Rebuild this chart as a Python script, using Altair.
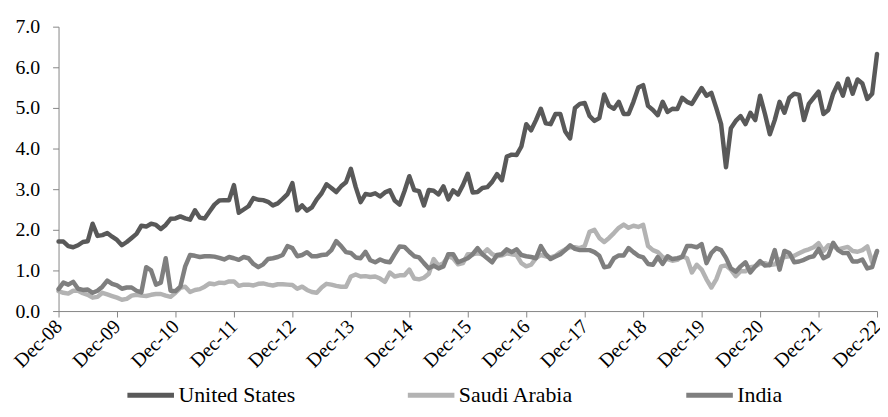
import altair as alt
import pandas as pd

series_names = ["United States", "Saudi Arabia", "India"]
series_colors = ["#595959", "#b3b3b3", "#7f7f7f"]

# Monthly values, Dec-08 .. Dec-22 (169 months); rows start at each December
united_states = [
    1.71, 1.71, 1.60, 1.57, 1.62, 1.70, 1.72, 2.15, 1.85, 1.87, 1.92, 1.83,
    1.75, 1.62, 1.70, 1.80, 1.90, 2.10, 2.08, 2.15, 2.12, 2.02, 2.12, 2.27,
    2.28, 2.33, 2.28, 2.25, 2.48, 2.30, 2.28, 2.45, 2.62, 2.72, 2.73, 2.73,
    3.10, 2.42, 2.50, 2.58, 2.78, 2.74, 2.73, 2.69, 2.60, 2.65, 2.76, 2.88,
    3.15, 2.48, 2.60, 2.47, 2.55, 2.75, 2.90, 3.12, 3.03, 2.93, 3.07, 3.17,
    3.50, 3.05, 2.68, 2.88, 2.86, 2.90, 2.82, 2.92, 2.97, 2.72, 2.62, 2.95,
    3.32, 2.98, 2.95, 2.60, 2.98, 2.96, 2.87, 3.07, 2.75, 2.97, 2.87, 3.10,
    3.38, 2.92, 2.93, 3.03, 3.05, 3.18, 3.37, 3.22, 3.80, 3.85, 3.84, 4.05,
    4.60, 4.45, 4.70, 4.98, 4.62, 4.60, 4.85, 4.85, 4.42, 4.25, 5.00, 5.10,
    5.12, 4.80, 4.68, 4.75, 5.33, 5.05, 4.98, 5.15, 4.85, 4.85, 5.15, 5.50,
    5.56, 5.05, 4.95, 4.82, 5.15, 4.90, 4.98, 4.97, 5.25, 5.15, 5.10, 5.30,
    5.49, 5.30, 5.37, 5.00, 4.60, 3.54, 4.50, 4.68, 4.80, 4.60, 4.88, 4.70,
    5.30, 4.85, 4.35, 4.70, 5.15, 4.88, 5.25, 5.35, 5.32, 4.70, 5.10, 5.25,
    5.40, 4.85, 4.95, 5.35, 5.60, 5.30, 5.72, 5.35, 5.70, 5.60, 5.22, 5.35,
    6.33,
]

saudi_arabia = [
    0.49, 0.45, 0.43, 0.50, 0.50, 0.44, 0.40, 0.33, 0.35, 0.45, 0.41, 0.37,
    0.33, 0.28, 0.30, 0.38, 0.40, 0.38, 0.37, 0.40, 0.42, 0.42, 0.38, 0.35,
    0.45, 0.57, 0.60, 0.47, 0.52, 0.54, 0.60, 0.68, 0.66, 0.70, 0.69, 0.73,
    0.73, 0.62, 0.65, 0.65, 0.63, 0.67, 0.68, 0.65, 0.63, 0.66, 0.66, 0.65,
    0.64, 0.55, 0.60, 0.52, 0.47, 0.45, 0.58, 0.67, 0.65, 0.62, 0.60, 0.60,
    0.85, 0.90, 0.85, 0.86, 0.84, 0.85, 0.80, 0.72, 0.95, 0.85, 0.88, 0.88,
    1.02, 0.80, 0.78, 0.82, 0.92, 1.28, 1.12, 1.18, 1.35, 1.30, 1.15, 1.18,
    1.40, 1.40, 1.42, 1.40, 1.52, 1.40, 1.35, 1.37, 1.42, 1.40, 1.38, 1.18,
    1.10, 1.14, 1.30, 1.38, 1.35, 1.32, 1.36, 1.45, 1.52, 1.57, 1.57, 1.55,
    1.60, 1.95, 2.00, 1.80, 1.70, 1.80, 1.92, 2.05, 2.13, 2.05, 2.10, 2.07,
    2.12, 1.60, 1.50, 1.45, 1.33, 1.28, 1.24, 1.26, 1.35, 1.30, 0.95, 1.14,
    1.02, 0.78, 0.58, 0.78, 1.10, 1.12, 1.02, 0.86, 0.98, 0.98, 1.08, 1.10,
    1.17, 1.18, 1.13, 1.15, 1.27, 1.33, 1.35, 1.36, 1.42, 1.48, 1.52, 1.57,
    1.67, 1.48, 1.62, 1.60, 1.52, 1.55, 1.58, 1.48, 1.46, 1.50, 1.59, 1.20,
    1.46,
]

india = [
    0.54, 0.70, 0.65, 0.72, 0.55, 0.52, 0.53, 0.45, 0.50, 0.60, 0.75, 0.67,
    0.63, 0.55, 0.58, 0.58, 0.50, 0.46, 1.08, 1.00, 0.65, 0.70, 1.30, 0.50,
    0.49, 0.60, 1.10, 1.38, 1.36, 1.33, 1.35, 1.35, 1.34, 1.31, 1.27, 1.33,
    1.30, 1.26, 1.33, 1.30, 1.16, 1.08, 1.15, 1.28, 1.30, 1.33, 1.38, 1.60,
    1.55, 1.35, 1.38, 1.45, 1.35, 1.35, 1.38, 1.39, 1.50, 1.72, 1.60, 1.45,
    1.43, 1.32, 1.30, 1.46, 1.25, 1.20, 1.27, 1.22, 1.20, 1.40, 1.59, 1.58,
    1.46, 1.35, 1.32, 1.18, 1.05, 1.12, 1.05, 1.10, 1.40, 1.40, 1.20, 1.25,
    1.30, 1.40, 1.55, 1.40, 1.30, 1.20, 1.38, 1.40, 1.52, 1.45, 1.52, 1.38,
    1.35, 1.33, 1.30, 1.60, 1.40, 1.28, 1.34, 1.40, 1.50, 1.62, 1.53, 1.50,
    1.50, 1.50, 1.45, 1.36, 1.08, 1.10, 1.30, 1.37, 1.37, 1.55, 1.45, 1.36,
    1.32, 1.16, 1.14, 1.33, 1.16, 1.35, 1.28, 1.30, 1.33, 1.60, 1.60, 1.57,
    1.65, 1.18, 1.43, 1.55, 1.50, 1.31, 1.05, 0.97, 1.10, 1.20, 0.95, 1.10,
    1.23, 1.12, 1.13, 1.50, 1.02, 1.48, 1.43, 1.20, 1.22, 1.26, 1.32, 1.35,
    1.53, 1.30, 1.36, 1.68, 1.50, 1.43, 1.43, 1.22, 1.22, 1.27, 1.05, 1.08,
    1.48,
]

y_ticks = [0, 1, 2, 3, 4, 5, 6, 7]
x_ticks = list(range(0, 169, 12))  # every December, Dec-08 .. Dec-22

rows = []
for name, vals in zip(series_names, [united_states, saudi_arabia, india]):
    for i, v in enumerate(vals):
        rows.append({"m": i, "value": v, "series": name})
df = pd.DataFrame(rows)

FONT = "'Liberation Serif', 'Times New Roman', serif"
AXIS_GRAY = "#868686"

chart = alt.Chart(df).mark_line(
    strokeWidth=4.5, strokeJoin="round", strokeCap="round"
).encode(
    x=alt.X(
        "m:Q",
        scale=alt.Scale(domain=[0, 168], nice=False, zero=False),
        axis=alt.Axis(
            values=x_ticks,
            labelExpr="'Dec-' + format((datum.value / 12 + 8) % 100, '02d')",
            labelAngle=-45, labelAlign="right", labelBaseline="middle",
            labelFlush=False, labelOverlap=False,
            tickSize=6, labelPadding=6, grid=False, title=None,
            domainColor=AXIS_GRAY, tickColor=AXIS_GRAY,
            labelFont=FONT, labelFontSize=20, labelColor="#000000",
        ),
    ),
    y=alt.Y(
        "value:Q",
        scale=alt.Scale(domain=[0, 7], nice=False),
        axis=alt.Axis(
            values=y_ticks, format=".1f", grid=False, title=None,
            tickSize=6, labelPadding=13, labelFlush=False, labelOverlap=False,
            domainColor=AXIS_GRAY, tickColor=AXIS_GRAY,
            labelFont=FONT, labelFontSize=20, labelColor="#000000",
        ),
    ),
    color=alt.Color(
        "series:N",
        scale=alt.Scale(domain=series_names, range=series_colors),
        legend=alt.Legend(
            title=None, orient="none", legendX=67, legendY=346,
            direction="horizontal", columns=3,
            symbolType="stroke", symbolSize=2209, symbolStrokeWidth=5,
            labelFont=FONT, labelFontSize=22, labelColor="#000000",
            labelOffset=2, columnPadding=103, padding=0, labelLimit=300,
        ),
    ),
).properties(
    width=826,
    height=287,
    autosize=alt.AutoSizeParams(type="none"),
    padding={"left": 51, "top": 17, "right": 3, "bottom": 97},
).configure_view(stroke=None)

chart.save("out.html", embed_options={"renderer": "svg", "actions": False})
